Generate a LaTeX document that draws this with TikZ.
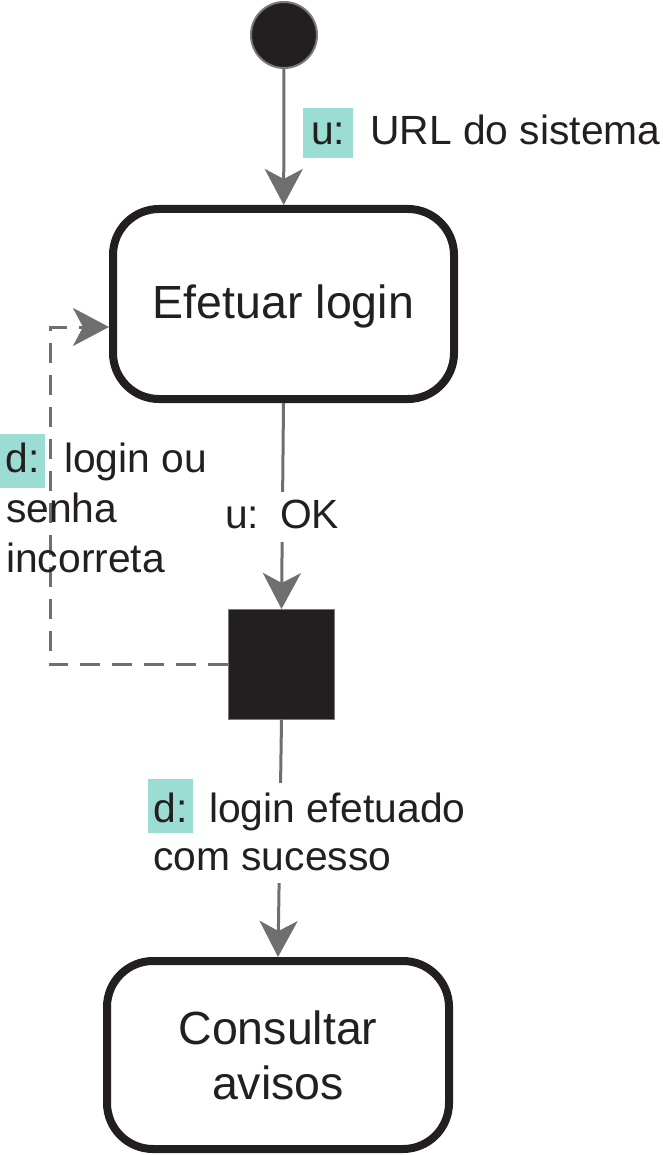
\documentclass[tikz,border=0pt]{standalone}
\usepackage{fontspec}
\setmainfont{Liberation Sans}
\usetikzlibrary{arrows.meta}
\definecolor{ink}{HTML}{231F20}
\definecolor{flowgray}{HTML}{6F6F6F}
\definecolor{tealtag}{HTML}{9BDDD3}
\definecolor{rimgray}{HTML}{7A7A7A}
\begin{document}
\begin{tikzpicture}[x=1pt,y=-1pt,
  every node/.style={text=ink},
  state/.style={draw=ink, line width=8pt, rounded corners=46pt, fill=white,
    align=center, font=\fontsize{46.5}{55}\selectfont, inner sep=0pt},
  flow/.style={draw=flowgray, line width=3pt,
    -{Stealth[length=36pt,width=38pt,inset=10pt]}},
  loopback/.style={draw=flowgray, line width=3pt, dash pattern=on 20pt off 12pt,
    -{Stealth[length=36pt,width=38pt,inset=10pt]}},
  lbl/.style={anchor=base west, inner sep=0pt, font=\fontsize{40.8}{49}\selectfont},
  tag/.style={lbl, fill=tealtag},
]
\useasboundingbox (0,0) rectangle (662,1155);

% main nodes
\node[circle, fill=ink, draw=rimgray, line width=2pt, minimum size=66pt, inner sep=0pt] (start) at (284,35) {};
\node[state, minimum width=341pt, minimum height=190pt, text height=38pt, text depth=10pt] (login) at (283.5,304) {Efetuar login};
\node[fill=ink, draw=rimgray, line width=1pt, minimum width=106pt, minimum height=110pt, inner sep=0pt] (dec) at (281.5,664.5) {};
\node[state, minimum width=342pt, minimum height=188pt] (consult) at (278,1055) {Consultar\\avisos};

% connectors
\coordinate (turnlow) at (50,664.5);
\coordinate (turnhigh) at (50,327);
\draw[flow] (start) -- (login);
\draw[flow] (login.south) -- (dec.north);
\draw[flow] (dec.south) -- (consult.north);
\draw[loopback] (dec.west) -- (turnlow) -- (turnhigh) -- (turnhigh -| login.west);

% labels
\node[tag, text height=37pt, text depth=13pt, minimum width=50pt] (tagurl) at (303,145) {u:};
\node[lbl] (urltext) at (370,145) {URL do sistema};

\node[lbl, anchor=base, fill=white, text height=36pt, text depth=14pt, inner xsep=3pt] (oklabel) at (282,528) {u:\hspace{21pt}OK};

\node[tag, text height=38pt, text depth=16pt, minimum width=45pt] (tagbad) at (0,472) {d:};
\node[lbl] (bad1) at (64,472) {login ou};
\node[lbl] (bad2) at (6,522) {senha};
\node[lbl] (bad3) at (6,572) {incorreta};

\node[lbl, fill=white, text height=39pt, text depth=10pt] (ok1) at (209,822) {login efetuado};
\node[lbl, fill=white, text height=38pt, text depth=13pt] (ok2) at (153,870) {com sucesso};
\node[tag, text height=43pt, text depth=11pt, minimum width=45pt] (tagok) at (148,822) {d:};
\end{tikzpicture}
\end{document}
